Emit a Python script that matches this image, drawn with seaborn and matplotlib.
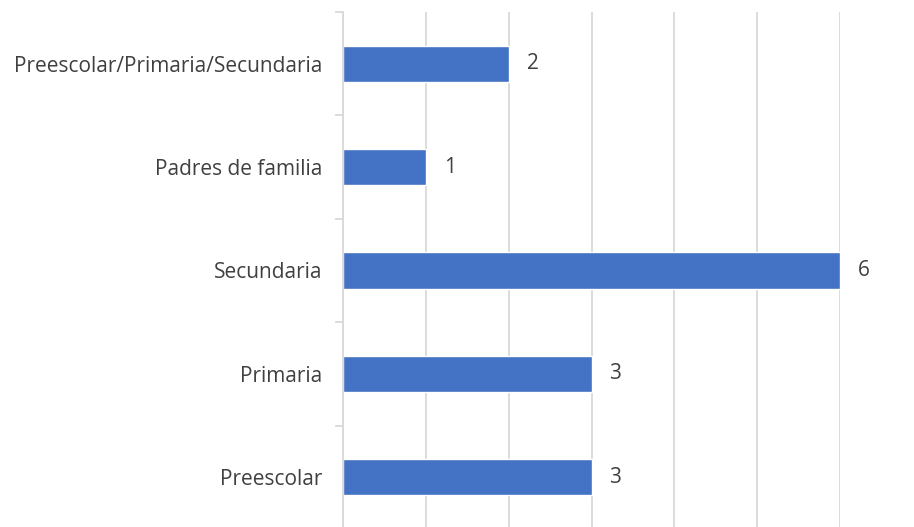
import pandas as pd
import matplotlib.pyplot as plt
import seaborn as sns
from matplotlib.ticker import FixedLocator

# datos
categorias = ['Preescolar/Primaria/Secundaria', 'Padres de familia',
              'Secundaria', 'Primaria', 'Preescolar']
valores = [2, 1, 6, 3, 3]

df = pd.DataFrame({'categoria': categorias, 'valor': valores})

sns.set_style('white')
plt.rcParams['font.family'] = ['Open Sans', 'DejaVu Sans']

fig = plt.figure(figsize=(9.14, 5.27), dpi=100)
ax = fig.add_axes([343 / 914, -2 / 527, (840 - 343) / 914, 517 / 527])

sns.barplot(data=df, x='valor', y='categoria', order=categorias,
            color='#4472C4', saturation=1, width=0.35, orient='h', ax=ax)

ax.set_xlim(0, 6)
ax.set_ylim(len(categorias) - 0.5, -0.5)
ax.set_xticks(range(0, 7))
ax.set_xticklabels([])
ax.tick_params(axis='x', length=0)
ax.grid(axis='x', color='#d9d9d9', linewidth=1.3)
ax.set_axisbelow(True)

# ticks entre categorias
ax.yaxis.set_minor_locator(FixedLocator([i - 0.5 for i in range(len(categorias) + 1)]))
ax.tick_params(axis='y', which='minor', left=True, length=6, color='#d9d9d9', width=1.3)
ax.tick_params(axis='y', which='major', length=0, pad=15, labelsize=15, labelcolor='#404040')

for s in ['top', 'right', 'bottom']:
    ax.spines[s].set_visible(False)
ax.spines['left'].set_color('#d9d9d9')
ax.spines['left'].set_linewidth(1.3)

ax.set_xlabel('')
ax.set_ylabel('')

for c in ax.containers:
    ax.bar_label(c, padding=13, fontsize=15, color='#404040')

plt.savefig('out.png')
